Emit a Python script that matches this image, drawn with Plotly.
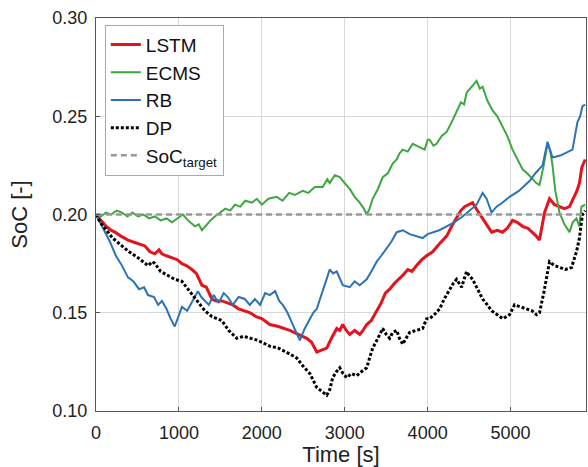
import plotly.graph_objects as go

# values (time in s, SoC in -)
t_lstm = [0, 60, 120, 180, 229, 300, 386, 450, 520, 590, 650, 711, 760, 795, 850, 916, 980,
          1036, 1090, 1157, 1210, 1277, 1330, 1398, 1450, 1520, 1590, 1650, 1720, 1795, 1860,
          1930, 2000, 2096, 2200, 2337, 2440, 2542, 2600, 2663, 2720, 2783, 2840, 2904, 2940,
          2976, 3020, 3060, 3120, 3181, 3220, 3265, 3320, 3386, 3440, 3490, 3542, 3600, 3650,
          3699, 3760, 3810, 3867, 3930, 3988, 4060, 4140, 4229, 4290, 4349, 4400, 4446, 4500,
          4542, 4600, 4663, 4720, 4771, 4840, 4904, 4960, 5024, 5080, 5145, 5210, 5265, 5310,
          5349, 5380, 5410, 5470, 5530, 5590, 5650, 5711, 5771, 5800, 5831, 5860, 5900]
soc_lstm = [0.200, 0.197, 0.194, 0.192, 0.191, 0.189, 0.187, 0.186, 0.185, 0.184, 0.181,
            0.180, 0.182, 0.180, 0.179, 0.178, 0.177, 0.175, 0.174, 0.172, 0.170, 0.164,
            0.163, 0.157, 0.156, 0.156, 0.155, 0.154, 0.152, 0.151, 0.150, 0.148, 0.147,
            0.144, 0.143, 0.141, 0.139, 0.137, 0.135, 0.130, 0.131, 0.132, 0.137, 0.142,
            0.141, 0.144, 0.141, 0.139, 0.141, 0.139, 0.141, 0.144, 0.146, 0.151, 0.155,
            0.160, 0.162, 0.165, 0.167, 0.169, 0.172, 0.171, 0.174, 0.177, 0.179, 0.181,
            0.185, 0.189, 0.194, 0.198, 0.202, 0.204, 0.205, 0.206, 0.202, 0.198, 0.194,
            0.191, 0.192, 0.191, 0.193, 0.197, 0.196, 0.194, 0.193, 0.191, 0.189, 0.187,
            0.195, 0.201, 0.208, 0.205, 0.204, 0.203, 0.204, 0.209, 0.212, 0.216, 0.224,
            0.228]

t_ecms = [0, 60, 120, 180, 250, 313, 380, 440, 506, 570, 640, 711, 780, 850, 916, 980, 1048,
          1110, 1193, 1240, 1277, 1320, 1380, 1434, 1500, 1560, 1620, 1675, 1740, 1800, 1880,
          1940, 2000, 2080, 2180, 2250, 2330, 2400, 2494, 2560, 2640, 2735, 2790, 2819, 2880,
          2940, 3000, 3060, 3120, 3181, 3230, 3265, 3300, 3337, 3400, 3458, 3520, 3580, 3627,
          3660, 3699, 3760, 3820, 3867, 3920, 3964, 4000, 4024, 4070, 4108, 4170, 4229, 4290,
          4349, 4400, 4440, 4470, 4530, 4590, 4630, 4663, 4720, 4783, 4840, 4904, 4960, 5024,
          5080, 5145, 5200, 5265, 5310, 5349, 5400, 5446, 5480, 5506, 5540, 5590, 5650, 5711,
          5750, 5795, 5830, 5855, 5900]
soc_ecms = [0.200, 0.199, 0.201, 0.200, 0.202, 0.201, 0.199, 0.201, 0.199, 0.200, 0.198,
            0.199, 0.197, 0.198, 0.196, 0.198, 0.200, 0.197, 0.194, 0.195, 0.192, 0.194,
            0.197, 0.199, 0.201, 0.203, 0.202, 0.205, 0.204, 0.207, 0.206, 0.208, 0.205,
            0.208, 0.209, 0.207, 0.211, 0.210, 0.212, 0.211, 0.214, 0.214, 0.218, 0.216,
            0.220, 0.219, 0.216, 0.213, 0.209, 0.206, 0.203, 0.200, 0.203, 0.208, 0.213,
            0.219, 0.221, 0.226, 0.228, 0.231, 0.233, 0.232, 0.236, 0.235, 0.234, 0.233,
            0.238, 0.238, 0.235, 0.236, 0.240, 0.242, 0.247, 0.252, 0.257, 0.256, 0.262,
            0.265, 0.268, 0.264, 0.265, 0.258, 0.253, 0.250, 0.245, 0.240, 0.233, 0.228,
            0.223, 0.221, 0.218, 0.216, 0.215, 0.225, 0.236, 0.232, 0.225, 0.212, 0.201,
            0.195, 0.191, 0.196, 0.198, 0.194, 0.204, 0.205]

t_rb = [0, 50, 108, 170, 240, 300, 386, 450, 520, 580, 627, 700, 750, 795, 850, 900, 950,
        990, 1036, 1100, 1160, 1229, 1270, 1313, 1360, 1420, 1480, 1540, 1590, 1650, 1720,
        1795, 1855, 1916, 1980, 2040, 2096, 2160, 2210, 2253, 2310, 2373, 2420, 2458, 2518,
        2578, 2620, 2663, 2700, 2735, 2780, 2819, 2860, 2904, 2940, 2976, 3060, 3120, 3180,
        3265, 3320, 3386, 3440, 3506, 3560, 3627, 3700, 3783, 3860, 3940, 4000, 4060, 4140,
        4229, 4320, 4422, 4500, 4590, 4663, 4711, 4771, 4831, 4900, 4988, 5100, 5229, 5300,
        5386, 5446, 5506, 5600, 5700, 5747, 5807, 5840, 5867, 5900]
soc_rb = [0.200, 0.196, 0.191, 0.186, 0.179, 0.175, 0.168, 0.166, 0.162, 0.163, 0.159,
          0.158, 0.154, 0.156, 0.152, 0.147, 0.143, 0.148, 0.153, 0.151, 0.156, 0.161,
          0.158, 0.156, 0.154, 0.159, 0.155, 0.160, 0.158, 0.154, 0.158, 0.157, 0.154,
          0.157, 0.154, 0.160, 0.159, 0.161, 0.156, 0.154, 0.150, 0.144, 0.140, 0.136,
          0.142, 0.147, 0.150, 0.152, 0.157, 0.162, 0.167, 0.172, 0.170, 0.171, 0.167,
          0.164, 0.163, 0.166, 0.164, 0.167, 0.171, 0.176, 0.179, 0.183, 0.186, 0.191,
          0.192, 0.190, 0.189, 0.188, 0.190, 0.191, 0.192, 0.194, 0.196, 0.199, 0.202,
          0.205, 0.211, 0.208, 0.201, 0.204, 0.206, 0.209, 0.212, 0.217, 0.221, 0.225,
          0.237, 0.229, 0.230, 0.232, 0.233, 0.247, 0.250, 0.255, 0.256]

t_dp = [0, 50, 108, 200, 313, 400, 506, 560, 627, 680, 711, 780, 867, 950, 1036, 1110, 1193,
        1250, 1313, 1400, 1518, 1600, 1699, 1780, 1855, 1950, 2096, 2200, 2337, 2420, 2494,
        2580, 2663, 2720, 2783, 2820, 2855, 2900, 2940, 2980, 3024, 3080, 3145, 3200, 3265,
        3300, 3337, 3400, 3458, 3500, 3542, 3580, 3627, 3660, 3699, 3740, 3783, 3860, 3940,
        3988, 4024, 4080, 4145, 4200, 4265, 4310, 4349, 4410, 4470, 4500, 4542, 4600, 4663,
        4720, 4771, 4840, 4904, 4950, 4988, 5048, 5120, 5193, 5260, 5313, 5349, 5400, 5434,
        5470, 5530, 5590, 5660, 5735, 5770, 5795, 5831, 5867, 5900]
soc_dp = [0.200, 0.196, 0.193, 0.188, 0.184, 0.181, 0.178, 0.176, 0.174, 0.176, 0.175,
          0.171, 0.169, 0.167, 0.166, 0.162, 0.157, 0.154, 0.151, 0.148, 0.146, 0.141,
          0.137, 0.138, 0.137, 0.136, 0.133, 0.132, 0.129, 0.127, 0.123, 0.119, 0.112,
          0.110, 0.108, 0.111, 0.117, 0.120, 0.122, 0.119, 0.117, 0.119, 0.118, 0.120,
          0.122, 0.127, 0.132, 0.137, 0.142, 0.139, 0.137, 0.140, 0.141, 0.137, 0.134,
          0.137, 0.140, 0.141, 0.142, 0.147, 0.147, 0.149, 0.152, 0.157, 0.162, 0.165,
          0.167, 0.163, 0.171, 0.169, 0.167, 0.162, 0.157, 0.154, 0.151, 0.149, 0.147,
          0.148, 0.149, 0.154, 0.153, 0.152, 0.151, 0.149, 0.150, 0.160, 0.167, 0.176,
          0.174, 0.173, 0.172, 0.173, 0.178, 0.181, 0.188, 0.200, 0.202]

t_target = [0, 5900]
soc_target = [0.20, 0.20]

fig = go.Figure()
fig.add_trace(go.Scatter(x=t_lstm, y=soc_lstm, name="LSTM", mode="lines",
                         line=dict(color="#e3141d", width=3)))
fig.add_trace(go.Scatter(x=t_ecms, y=soc_ecms, name="ECMS", mode="lines",
                         line=dict(color="#40a640", width=2)))
fig.add_trace(go.Scatter(x=t_rb, y=soc_rb, name="RB", mode="lines",
                         line=dict(color="#2d73b3", width=2)))
fig.add_trace(go.Scatter(x=t_dp, y=soc_dp, name="DP", mode="lines",
                         line=dict(color="black", width=3, dash="3px,2px")))
fig.add_trace(go.Scatter(x=t_target, y=soc_target, name="SoC<sub>target</sub>", mode="lines",
                         line=dict(color="#999999", width=2.5, dash="6px,4px")))

fig.update_layout(
    width=588, height=467,
    margin=dict(l=96, r=1, t=18, b=54),
    paper_bgcolor="white", plot_bgcolor="white",
    font=dict(family="Liberation Sans, Arial", size=18, color="#222"),
    showlegend=True,
    legend=dict(x=0.018, y=0.983, xanchor="left", yanchor="top",
                bgcolor="white", bordercolor="#aaa", borderwidth=1,
                font=dict(size=19, color="#111"), itemwidth=30,
                tracegroupgap=0),
)
fig.update_xaxes(range=[0, 5910], tickvals=[0, 1000, 2000, 3000, 4000, 5000],
                 title=dict(text="Time [s]", standoff=8),
                 showgrid=True, gridcolor="#d8d8d8", gridwidth=1.2,
                 showline=True, linecolor="#555", linewidth=1, mirror=True,
                 ticks="inside", ticklen=4, tickcolor="#555", zeroline=False,
                 ticklabelstandoff=5)
fig.update_yaxes(range=[0.10, 0.30], tickvals=[0.10, 0.15, 0.20, 0.25, 0.30],
                 tickformat=".2f", title=dict(text="SoC [-]", standoff=18),
                 showgrid=True, gridcolor="#d8d8d8", gridwidth=1.2,
                 showline=True, linecolor="#555", linewidth=1, mirror=True,
                 ticks="inside", ticklen=4, tickcolor="#555", zeroline=False,
                 ticklabelstandoff=4)

# drop the default page margin so the 588x467 figure fills the window exactly
fig.write_html("out.html", config={"displayModeBar": False},
               post_script="document.body.style.margin='0';document.body.style.overflow='hidden';")
